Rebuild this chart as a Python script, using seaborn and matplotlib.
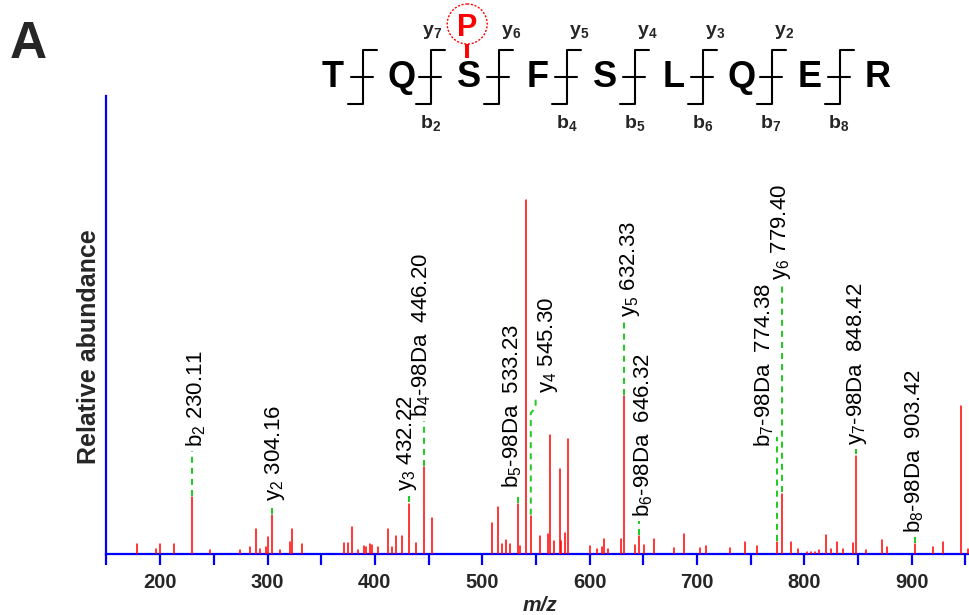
import numpy as np
import pandas as pd
import seaborn as sns
import matplotlib
matplotlib.use("Agg")
import matplotlib.pyplot as plt
from matplotlib.ticker import MultipleLocator, FuncFormatter
from matplotlib.patches import Circle

# ---------------- data ----------------
mz = [178.0, 196.0, 200.0, 213.0, 230.11, 246.5, 274.4, 283.7, 289.3, 293.4,
      298.6, 300.5, 304.16, 311.6, 320.7, 322.8, 332.5,
      371.2, 374.9, 379.0, 384.6, 389.8, 391.6, 395.4, 397.2, 403.2, 412.1,
      415.8, 419.9, 424.9, 432.22, 438.5, 446.20, 453.4,
      508.9, 514.5, 518.2, 522.3, 526.3, 533.23, 535.3, 540.9, 545.30, 553.9,
      561.0, 563.2, 566.9, 572.1, 573.7, 577.4, 580.2,
      600.0, 607.2, 611.2, 613.7, 616.8, 629.5, 632.33, 642.3, 646.32, 650.6,
      659.8, 678.8, 687.9, 702.7, 708.3, 730.6, 745.2, 756.3, 774.38, 779.40,
      788.0, 793.9, 802.3, 806.3, 810.0, 813.7, 820.0, 825.2, 830.8, 836.3,
      845.6, 848.42, 857.2, 872.1, 877.6, 903.42, 920.1, 929.8, 946.1, 952.3]
intensity = [2.9, 1.4, 2.9, 2.9, 16.0, 1.2, 1.2, 2.0, 7.1, 1.4,
             2.0, 4.7, 10.9, 1.2, 3.5, 7.1, 2.9,
             3.0, 3.0, 7.5, 1.2, 2.4, 2.0, 2.9, 2.5, 1.9, 7.0,
             1.9, 5.2, 5.2, 14.2, 3.0, 24.5, 10.3,
             8.7, 13.2, 2.9, 4.0, 2.9, 14.1, 2.4, 100.0, 10.7, 5.0,
             5.6, 33.7, 3.8, 24.1, 3.8, 6.0, 32.6,
             2.2, 1.4, 2.1, 4.3, 1.5, 4.3, 44.6, 2.6, 5.1, 2.6,
             4.3, 1.8, 5.6, 1.8, 2.4, 1.8, 3.4, 2.4, 3.4, 17.0,
             3.4, 1.3, 0.7, 0.7, 0.7, 1.1, 5.3, 1.3, 3.5, 1.3,
             3.0, 27.8, 1.2, 4.0, 1.9, 2.7, 1.9, 3.4, 41.9, 1.3]

ann_mz = [230.11, 304.16, 432.22, 446.20, 533.23, 545.30, 632.33, 646.32,
          774.38, 779.40, 848.42, 903.42]
ann_text = [r"$b_2$ 230.11", r"$y_2$ 304.16", r"$y_3$ 432.22",
            r"$b_4$-98Da  446.20", r"$b_5$-98Da  533.23", r"$y_4$ 545.30",
            r"$y_5$ 632.33", r"$b_6$-98Da  646.32", r"$b_7$-98Da  774.38",
            r"$y_6$ 779.40", r"$y_7$-98Da  848.42", r"$b_8$-98Da  903.42"]

sequence = list("TQSFSLQER")
phospho_site = 2
b_ions = [2, 4, 5, 6, 7, 8]
y_ions = [2, 3, 4, 5, 6, 7]

x_ticks = [200, 300, 400, 500, 600, 700, 800, 900]

# ---------------- layout ----------------
LABEL_BOTTOM = [30.2, 14.9, 17.7, 38.7, 18.6, 45.5, 66.9, 10.4, 30.2, 77.4, 30.8, 6.0]
LABEL_DX = [3.0, 2.5, -2.0, -3.0, -5.0, 16.0, 5.5, 3.5, -12.0, -1.0, 1.0, -1.0]
CONN_TOP = {8: 33.0}
KINK = {5: (39.8, 41.4, 4.5)}
GREEN = "#22cc22"
RED = "#ff0000"
BLUE = "#0000ff"

W, H = 970, 615
sns.set_theme(style="white")
plt.rcParams["font.family"] = ["Liberation Sans", "DejaVu Sans"]
plt.rcParams["mathtext.default"] = "regular"

fig = plt.figure(figsize=(W / 100, H / 100), dpi=100)
ax = fig.add_axes([106.5 / W, 61 / H, 1 - 106.5 / W, 458 / H])

# stems
rows = []
for i, (m, v) in enumerate(zip(mz, intensity)):
    rows.append({"peak": i, "mz": m, "rel": 0.0})
    rows.append({"peak": i, "mz": m, "rel": v})
df = pd.DataFrame(rows)
sns.lineplot(data=df, x="mz", y="rel", units="peak", estimator=None,
             color=RED, linewidth=1.1, ax=ax, legend=False, sort=False, zorder=3)

ax.set_xlim(150, 954.5)
ax.set_ylim(0, 129.4)
ax.set_xlabel("")
ax.set_ylabel("")
for s in ["top", "right"]:
    ax.spines[s].set_visible(False)
for s in ["left", "bottom"]:
    ax.spines[s].set_color(BLUE)
    ax.spines[s].set_linewidth(1.6)
ax.set_yticks([])
ax.xaxis.set_major_locator(MultipleLocator(100))
ax.xaxis.set_minor_locator(MultipleLocator(50))
ax.xaxis.set_major_formatter(FuncFormatter(lambda v, p: f"{int(v)}"))
ax.tick_params(axis="x", which="both", direction="out", length=8, width=1.6,
               color=BLUE, bottom=True, pad=5.5)
ax.tick_params(axis="x", which="major", labelsize=14.5)
for lab in ax.get_xticklabels():
    lab.set_fontweight("bold")

# annotations
lookup = dict(zip(mz, intensity))
dash = (3.0, 2.5)
for k, (m, txt, lb, dx) in enumerate(zip(ann_mz, ann_text, LABEL_BOTTOM, LABEL_DX)):
    top_i = lookup[m]
    if k in KINK:
        y1, y2, kx = KINK[k]
        xs = [m, m, m + kx, m + kx]
        ys = [top_i + 0.4, y1, y2, lb - 1.0]
    else:
        yt = CONN_TOP.get(k, lb - 1.0)
        xs = [m, m]
        ys = [top_i + 0.4, yt]
    ax.plot(xs, ys, color=GREEN, lw=1.45, dashes=dash, zorder=2)
    ax.text(m + dx, lb, txt, rotation=90, ha="center", va="bottom",
            fontsize=16, color="black", zorder=4)

# axis titles
fig.text(89 / W, 1 - 347 / H, "Relative abundance", rotation=90, ha="center",
         va="center", fontsize=18, fontweight="bold")
fig.text(540 / W, 1 - 611 / H, "m/z", ha="center", va="baseline",
         fontsize=15, fontweight="bold", style="italic")
fig.text(10 / W, 1 - 58 / H, "A", ha="left", va="baseline", fontsize=37,
         fontweight="bold")

# peptide ladder overlay in pixel space
ov = fig.add_axes([0, 0, 1, 1], facecolor="none")
ov.set_xlim(0, W)
ov.set_ylim(H, 0)
ov.axis("off")

x0, step = 333, 68.1
letter_x = [x0 + step * i for i in range(len(sequence))]
for i, aa in enumerate(sequence):
    ov.text(letter_x[i], 87, aa, ha="center", va="baseline", fontsize=26,
            fontweight="bold", color="black")

bracket_x = [letter_x[i] + 30 for i in range(len(sequence) - 1)]
for bx in bracket_x:
    ov.plot([bx, bx], [50, 104], color="black", lw=1.5, solid_capstyle="butt")
    ov.plot([bx, bx + 14], [50, 50], color="black", lw=1.5)
    ov.plot([bx - 15, bx], [104, 104], color="black", lw=1.5)
    ov.plot([bx - 12, bx + 10], [77, 77], color="black", lw=1.5)

n = len(sequence)
for b in b_ions:
    bx = bracket_x[b - 1]
    ov.text(bx - 1, 128, rf"$b_{b}$", ha="center", va="baseline",
            fontsize=14, fontweight="bold")
for y in y_ions:
    idx = n - y - 1
    bx = bracket_x[idx]
    off = 1 if idx + 1 == phospho_site else 12
    ov.text(bx + off, 35, rf"$y_{y}$", ha="center", va="baseline",
            fontsize=14, fontweight="bold")

px_ = letter_x[phospho_site] - 2
ov.add_patch(Circle((px_, 24), 20, fill=False, edgecolor=RED, lw=1.0,
                    linestyle=(0, (1.5, 1.2))))
ov.plot([px_, px_], [44, 58], color=RED, lw=2.8, solid_capstyle="butt")
ov.text(px_, 36, "P", ha="center", va="baseline", fontsize=22,
        fontweight="bold", color=RED)

fig.savefig("out.png", dpi=100)
